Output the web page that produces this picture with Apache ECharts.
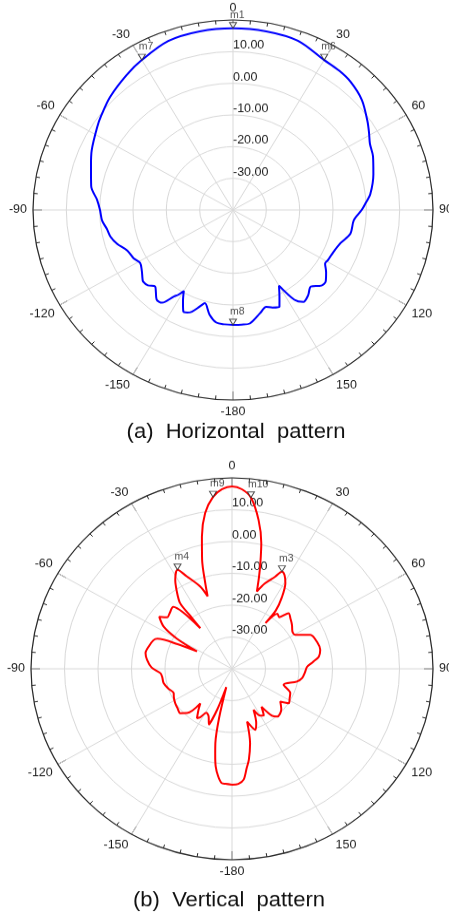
<!DOCTYPE html>
<html>
<head>
<meta charset="utf-8">
<script src="https://cdn.jsdelivr.net/npm/echarts@6/dist/echarts.min.js"></script>
<style>
  html, body { margin: 0; padding: 0; background: #fff; overflow: hidden; }
  /* the measured plots are slightly flattened vertically */
  #chart { width: 449px; height: 964px; transform: scaleY(0.95); transform-origin: 0 0; }
</style>
</head>
<body>
<div id="chart"></div>
<script>
// Radial scale (dB) and its labelled rings
const radialMin = -40;
const radialMax = 20;
const radialStep = 10;
const radialLabelled = [-30, -20, -10, 0, 10];

// Angle tick labels every 30 degrees
const angleStep = 30;

// (a) Horizontal pattern: angle (deg) and gain (dB)
const hAngles = [
  -180, -176, -172, -168, -164, -162, -159, -157, -155, -152.5, -150, -148.5, -147,
  -144, -141, -138, -136, -133, -130, -128.5, -125, -121, -117, -112, -107, -103,
  -99, -95, -90, -85.5, -80, -72, -66, -57, -53, -46, -37, -30, -20, -10,
  0, 10, 20, 30, 36, 41, 48, 55, 59, 63, 68, 75, 83, 87, 90, 95, 102, 108, 114,
  119, 121.5, 125, 129, 132, 136, 140, 144, 147, 150, 153, 155.5, 159, 162, 166,
  172, 176, 180
];
const hGain = [
  -3.7, -3.8, -4.1, -6.2, -9.4, -8.0, -5.6, -4.8, -4.7, -7.5, -10.5, -8.6, -7.4,
  -3.8, -3.6, -5.4, -6.4, -5.1, -4.8, -5.3, -6.6, -7.5, -6.5, -5.8, -3.6, -2.3,
  -1.7, -0.6, -0.1, 0.9, 3.2, 4.8, 6.4, 8.5, 9.5, 11.3, 13.2, 14.7, 16.8, 17.3,
  17.4, 17.3, 16.9, 14.7, 14.3, 13.7, 12.0, 9.2, 7.6, 6.1, 5.3, 3.6, 1.5, -0.2, -1.4,
  -3.6, -4.0, -6.1, -7.1, -7.4, -7.6, -5.9, -4.2, -4.3, -6.4, -4.9, -4.1, -6.2,
  -12.4, -9.3, -6.4, -7.0, -7.8, -6.4, -3.8, -3.7, -3.7
];
const hMarkNames = ['m1', 'm6', 'm7', 'm8'];
const hMarkAngles = [0, 30, -30, 180];

// (b) Vertical pattern: angle (deg) and gain (dB)
const vAngles = [
  -180, -177, -175, -173, -171, -169.5, -168, -166, -163.5, -161, -158.5, -155,
  -151, -148, -146, -142, -139, -136, -132, -127, -122.5, -117, -113.7, -108,
  -102.4, -97, -93.7, -89, -83.7, -79, -74, -69, -67, -64.5, -62.4, -60, -57,
  -53, -50, -47, -42, -39.5, -36.5, -36.8, -36.9, -34, -31.2, -27.6, -24.9,
  -20.1, -17.7, -16.5, -14.6, -12.2, -9.3, -6, -3, 0, 3, 6, 9.6, 12.5, 14.3,
  15.6, 17, 20, 24, 26, 28, 30.6, 33.5, 35.5, 34.8, 38, 41, 44, 48, 52.4, 57,
  60.5, 65.5, 72, 77.3, 81.6, 85, 88.5, 93, 98, 101.6, 108, 113.7, 118, 122.5,
  125.5, 131, 138, 141, 143.5, 147, 150, 153.5, 157, 160, 164.8, 167, 170, 172,
  174.3, 177, 180
];
const vGain = [
  -3.6, -3.8, -4.0, -6.0, -8.9, -12.5, -16.1, -24.0, -34.0, -26.5, -21.2, -23.5,
  -24.2, -22.0, -21.3, -23.8, -25.6, -20.7, -19.2, -19.6, -19.9, -20.5, -21.0, -20.0,
  -19.1, -19.0, -18.6, -16.0, -14.5, -13.7, -14.2, -14.9, -15.8, -22.0, -28.2, -21.0, -15.7,
  -12.8, -14.8, -14.5, -13.8, -17.0, -24.1, -19.0, -14.2, -10.5, -7.3, -4.9, -8.0,
  -12.5, -16.1, -11.9, -4.6, 2.5, 9.6, 14.3, 16.5, 17.3, 16.5, 14.1, 7.5, 0.4, -5.7,
  -10.0, -14.6, -11.5, -8.3, -6.0, -6.6, -8.7, -13.0, -17.5, -22.5, -18.0, -18.5, -15.7, -16.5, -17.4, -18.5,
  -18.3, -14.3, -13.2, -13.0, -13.8, -15.8, -17.6, -18.2, -18.9, -20.2, -23.8, -21.0, -20.5, -19.9,
  -22.3, -20.5, -19.8, -21.0, -25.2, -22.6, -23.0, -25.6, -21.5, -19.6, -22.8, -16.0, -11.0, -8.5,
  -5.0, -3.8, -3.6
];
const vMarkNames = ['m9', 'm10', 'm4', 'm3'];
const vMarkAngles = [-6, 6, -27.6, 26];

// Angles run clockwise from the top; negative degrees live on the left half
const toAxisAngle = a => (a < 0 ? a + 360 : a);

function curve(angles, gains) {
  return angles.map((a, i) => [gains[i], toAxisAngle(a)]);
}

function markers(names, markAngles, angles, gains) {
  return names.map((n, i) => {
    const k = angles.indexOf(markAngles[i]);
    return { name: n, value: [gains[k], toAxisAngle(markAngles[i])] };
  });
}

const axisColor = '#2a2a2a';
const labelColor = '#1c1c1c';
const gridColor = '#d9d9d9';
const font = 'Liberation Sans, Arial, sans-serif';

function angleAxis(polarIndex) {
  return {
    polarIndex,
    type: 'value',
    min: 0,
    max: 360,
    interval: angleStep,
    startAngle: 90,
    clockwise: true,
    axisLine: { lineStyle: { color: axisColor, width: 1.2 } },
    axisTick: { inside: true, length: 9, lineStyle: { color: axisColor, width: 1 } },
    minorTick: { show: true, splitNumber: 6, length: 4, lineStyle: { color: axisColor, width: 1 } },
    axisLabel: {
      margin: 6,
      color: labelColor,
      fontSize: 12.5,
      fontFamily: font,
      formatter: v => (v === 180 ? '-180' : String(v > 180 ? v - 360 : v))
    },
    splitLine: { lineStyle: { color: gridColor, width: 1 } }
  };
}

function radiusAxis(polarIndex) {
  return {
    polarIndex,
    type: 'value',
    min: radialMin,
    max: radialMax,
    interval: radialStep,
    axisLine: { show: false },
    axisTick: { show: false },
    axisLabel: {
      margin: 0,
      align: 'left',
      verticalAlign: 'bottom',
      color: labelColor,
      fontSize: 12.5,
      fontFamily: font,
      formatter: v => (radialLabelled.indexOf(v) >= 0 ? v.toFixed(2) : '')
    },
    splitLine: { lineStyle: { color: gridColor, width: 1 } }
  };
}

function markerSeries(polarIndex, data) {
  return {
    type: 'scatter',
    coordinateSystem: 'polar',
    polarIndex,
    symbol: 'triangle',
    symbolRotate: 180,
    symbolSize: [7, 6],
    symbolOffset: [0, -3],
    itemStyle: { color: '#fff', borderColor: '#222', borderWidth: 1 },
    label: {
      show: true,
      position: 'top',
      align: 'left',
      distance: 2,
      offset: [-3, 0],
      fontSize: 10.5,
      color: '#222',
      fontFamily: font,
      formatter: p => p.name
    },
    z: 5,
    data
  };
}

function patternSeries(polarIndex, color, data) {
  return {
    type: 'line',
    coordinateSystem: 'polar',
    polarIndex,
    symbol: 'none',
    smooth: 0.3,
    lineStyle: { color, width: 2 },
    z: 3,
    data
  };
}

const chart = echarts.init(document.getElementById('chart'), null, { renderer: 'canvas' });

chart.setOption({
  animation: false,
  backgroundColor: '#fff',
  polar: [
    { center: [233, 221], radius: [0, 200] },
    { center: [232, 704], radius: [0, 201] }
  ],
  angleAxis: [angleAxis(0), angleAxis(1)],
  radiusAxis: [radiusAxis(0), radiusAxis(1)],
  series: [
    patternSeries(0, '#0000ff', curve(hAngles, hGain)),
    markerSeries(0, markers(hMarkNames, hMarkAngles, hAngles, hGain)),
    patternSeries(1, '#ff0000', curve(vAngles, vGain)),
    markerSeries(1, markers(vMarkNames, vMarkAngles, vAngles, vGain))
  ],
  graphic: [
    {
      type: 'text',
      x: 236,
      y: 455,
      style: {
        text: '(a)  Horizontal  pattern',
        fontSize: 22,
        fontFamily: font,
        fill: '#111',
        align: 'center',
        verticalAlign: 'middle'
      }
    },
    {
      type: 'text',
      x: 229,
      y: 948,
      style: {
        text: '(b)  Vertical  pattern',
        fontSize: 22,
        fontFamily: font,
        fill: '#111',
        align: 'center',
        verticalAlign: 'middle'
      }
    }
  ]
});
</script>
</body>
</html>
